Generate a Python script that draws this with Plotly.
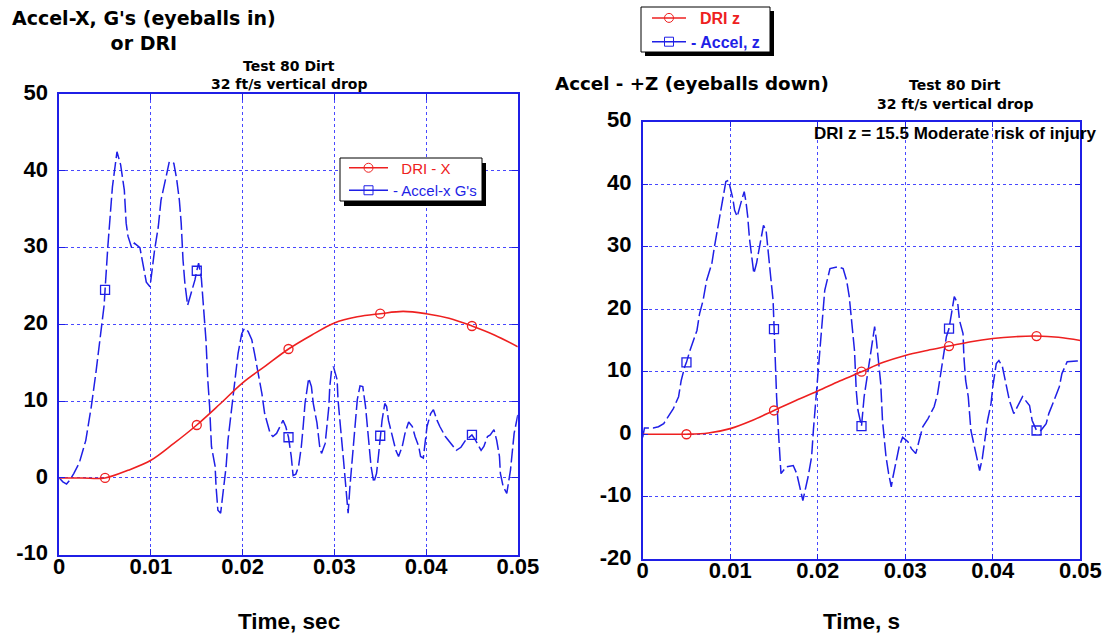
import plotly.graph_objects as go

# ---------------- data ----------------
TIME_TICKS = [0, 0.01, 0.02, 0.03, 0.04, 0.05]
Y_TICKS_LEFT = [-10, 0, 10, 20, 30, 40, 50]
Y_TICKS_RIGHT = [-20, -10, 0, 10, 20, 30, 40, 50]
MARK_T = [0.005, 0.015, 0.025, 0.035, 0.045]

# Dynamic Response Index, sampled every 2.5 ms
DRI_T = [0, 0.0025, 0.005, 0.0075, 0.01, 0.0125, 0.015, 0.0175, 0.02, 0.0225, 0.025,
         0.0275, 0.03, 0.0325, 0.035, 0.0375, 0.04, 0.0425, 0.045, 0.0475, 0.05]
DRI_X = [0, 0, 0, 1.0, 2.3, 4.5, 6.9, 9.6, 12.4, 14.6, 16.8,
         18.6, 20.2, 21.0, 21.4, 21.7, 21.4, 20.8, 19.8, 18.6, 17.1]
DRI_Z = [0, 0, 0, 0.2, 0.9, 2.2, 3.8, 5.4, 6.9, 8.5, 10.0,
         11.5, 12.6, 13.4, 14.1, 14.8, 15.3, 15.6, 15.7, 15.5, 15.0]

# Seat acceleration, x axis (G's)
ACCEL_X_T = [0, 0.0004, 0.0008, 0.0012, 0.0016, 0.0022, 0.0029, 0.0035, 0.004, 0.0046,
             0.0049, 0.005, 0.0053, 0.0058, 0.006, 0.0063, 0.0067, 0.0071, 0.0073, 0.0075,
             0.0079, 0.0082, 0.0088, 0.0091, 0.0095, 0.0099, 0.0104, 0.0108, 0.0111, 0.0117,
             0.012, 0.0125, 0.0128, 0.0131, 0.0133, 0.0135, 0.0137, 0.014, 0.0145, 0.0148,
             0.015, 0.0152, 0.0155, 0.0157, 0.0159, 0.016, 0.0162, 0.0164, 0.0166, 0.017,
             0.0171, 0.0173, 0.0176, 0.0179, 0.0182, 0.0184, 0.0188, 0.0191, 0.0195, 0.0199,
             0.0202, 0.0206, 0.021, 0.0213, 0.0217, 0.0221, 0.0224, 0.023, 0.0233, 0.0237,
             0.0244, 0.0247, 0.025, 0.0253, 0.0255, 0.0258, 0.0261, 0.0264, 0.0266, 0.0268,
             0.0272, 0.0275, 0.0277, 0.0281, 0.0284, 0.0286, 0.029, 0.0292, 0.0294, 0.0295,
             0.0297, 0.0299, 0.0303, 0.0304, 0.0306, 0.0308, 0.031, 0.0312, 0.0314, 0.0315,
             0.0317, 0.0319, 0.0321, 0.0323, 0.0325, 0.0328, 0.0331, 0.0334, 0.0336, 0.0338,
             0.034, 0.0343, 0.0346, 0.0348, 0.035, 0.0352, 0.0355, 0.0357, 0.0359, 0.0363,
             0.0367, 0.037, 0.0374, 0.0377, 0.0381, 0.0385, 0.0388, 0.0392, 0.0394, 0.0397,
             0.0399, 0.0401, 0.0405, 0.0408, 0.0412, 0.0415, 0.0421, 0.0427, 0.0433, 0.0438,
             0.0443, 0.045, 0.0454, 0.046, 0.0463, 0.0467, 0.047, 0.0474, 0.0477, 0.048,
             0.0481, 0.0484, 0.0488, 0.0492, 0.0494, 0.0496, 0.05]
ACCEL_X = [0, -0.5, -0.8, -0.2, 0.6, 2.0, 4.9, 9.3, 13.7, 19.7,
           22.5, 24.5, 30.1, 37.9, 40.1, 42.5, 40.8, 37.5, 33.2, 31.5,
           30.0, 30.6, 30.0, 28.0, 25.5, 24.9, 29.7, 32.7, 36.2, 39.5,
           41.2, 41.0, 39.0, 36.2, 33.2, 28.4, 25.4, 22.5, 24.5, 25.8,
           27.0, 28.0, 26.0, 23.2, 20.5, 18.0, 12.8, 9.3, 4.1, 1.5,
           -1.1, -4.2, -4.6, -1.1, 1.5, 4.9, 9.3, 11.9, 16.2, 18.8,
           19.5, 19.1, 18.0, 16.2, 13.6, 11.0, 8.4, 5.8, 5.4, 5.8,
           7.5, 6.7, 5.3, 2.8, 0.3, 0.5, 1.5, 4.1, 6.7, 9.7,
           13.0, 11.9, 9.7, 7.2, 4.1, 3.2, 4.5, 7.2, 9.3, 11.9,
           14.1, 14.5, 12.8, 10.2, 8.0, 4.9, 2.3, -0.3, -2.9, -4.6,
           -1.1, 1.5, 4.5, 7.2, 10.2, 12.0, 11.9, 9.3, 6.7, 4.1,
           1.5, -0.6, 0.6, 2.8, 5.5, 7.5, 9.7, 9.3, 7.5, 5.4,
           3.6, 2.8, 4.1, 5.8, 7.3, 6.7, 5.4, 4.1, 2.8, 2.6,
           4.9, 6.7, 8.4, 8.9, 7.5, 6.7, 5.4, 4.5, 3.6, 4.0,
           4.9, 5.6, 4.9, 3.6, 4.1, 5.4, 5.6, 6.3, 4.9, 2.8,
           0.6, -1.1, -2.0, 1.0, 3.6, 5.8, 8.2]

# Seat acceleration, z axis (G's)
ACCEL_Z_T = [0, 0.0002, 0.0012, 0.0018, 0.0024, 0.0029, 0.0035, 0.0041, 0.0044, 0.0048,
             0.005, 0.0054, 0.0058, 0.0062, 0.0065, 0.0069, 0.0073, 0.0079, 0.0082, 0.0086,
             0.0089, 0.0092, 0.0095, 0.0098, 0.01, 0.0103, 0.0105, 0.0108, 0.0113, 0.0116,
             0.0118, 0.012, 0.0122, 0.0124, 0.0127, 0.013, 0.0134, 0.0138, 0.0141, 0.0143,
             0.0145, 0.0147, 0.0149, 0.015, 0.0151, 0.0153, 0.0155, 0.0157, 0.0158, 0.0164,
             0.0172, 0.0176, 0.0179, 0.0183, 0.0189, 0.0193, 0.0195, 0.0198, 0.0202, 0.0204,
             0.0208, 0.0214, 0.0223, 0.0229, 0.0233, 0.0236, 0.0238, 0.024, 0.0242, 0.0244,
             0.0246, 0.025, 0.0253, 0.0257, 0.0261, 0.0265, 0.0267, 0.027, 0.0272, 0.0274,
             0.0276, 0.0278, 0.0281, 0.0284, 0.0286, 0.0289, 0.0293, 0.0297, 0.0303, 0.0307,
             0.0312, 0.0317, 0.032, 0.0326, 0.0333, 0.0337, 0.034, 0.0343, 0.0347, 0.035,
             0.0353, 0.0356, 0.036, 0.0362, 0.0366, 0.0367, 0.0369, 0.0372, 0.0375, 0.0379,
             0.0383, 0.0385, 0.0388, 0.0391, 0.0394, 0.0398, 0.04, 0.0404, 0.0407, 0.0411,
             0.0415, 0.0419, 0.0424, 0.043, 0.0434, 0.0442, 0.0445, 0.045, 0.0455, 0.0461,
             0.0464, 0.047, 0.0476, 0.0479, 0.0485, 0.0496, 0.05]
ACCEL_Z = [-0.5, 1.0, 1.0, 1.2, 1.7, 2.8, 4.1, 6.0, 8.6, 10.8,
           11.5, 13.4, 15.0, 16.6, 19.3, 21.4, 24.6, 27.3, 30.0, 33.2,
           35.8, 38.5, 40.4, 40.6, 39.5, 37.7, 35.8, 34.8, 37.4, 38.8,
           37.2, 34.8, 31.3, 28.9, 25.7, 27.3, 30.5, 33.4, 32.6, 29.4,
           27.3, 24.1, 21.4, 16.8, 12.4, 6.0, 0.6, -3.6, -6.3, -5.2,
           -5.0, -6.3, -8.4, -10.6, -6.8, -3.6, 0.6, 6.0, 12.4, 17.0,
           23.0, 26.5, 26.8, 26.5, 24.6, 22.0, 18.8, 16.6, 13.4, 7.0,
           3.8, 1.3, 6.0, 9.7, 13.4, 17.2, 15.0, 11.3, 8.1, 2.2,
           -1.0, -3.6, -6.3, -8.4, -6.8, -4.7, -2.0, -0.5, -1.2, -2.3,
           -3.1, -0.4, 1.2, 2.5, 4.4, 6.5, 9.2, 12.4, 15.6, 16.9,
           19.5, 22.0, 20.9, 18.2, 16.1, 12.4, 8.6, 6.0, 0.6, -2.0,
           -4.7, -5.8, -3.9, -0.4, 2.2, 4.9, 7.6, 11.3, 11.8, 10.8,
           8.1, 5.4, 3.3, 4.9, 6.0, 4.6, 2.2, 0.6, 0.6, 1.7,
           3.3, 5.4, 7.6, 9.7, 11.6, 11.7, 11.7]

# ---------------- styling ----------------
W, H = 1102, 636
BLUE = "#1f1fe6"
GRID = "#4848ff"
RED = "#ee2020"
SANS = "Liberation Sans, Arial, Helvetica, sans-serif"
WIDE = "DejaVu Sans, Verdana, sans-serif"
NBSP = "\u00a0"


def px_x(p):
    return p / W


def px_y(p):
    return 1 - p / H


def sample(ts, vs, at):
    lut = {round(t, 4): v for t, v in zip(ts, vs)}
    return [lut[round(t, 4)] for t in at]


fig = go.Figure()


def add_panel(xa, ya, acc_t, acc_v, dri_v, legend, dri_name, acc_name):
    # measured acceleration: dashed trace plus sampled square markers
    fig.add_trace(go.Scatter(x=acc_t, y=acc_v, mode="lines", xaxis=xa, yaxis=ya,
                             line=dict(color=BLUE, width=1.5, dash="14px,4px"),
                             showlegend=False, hoverinfo="skip"))
    fig.add_trace(go.Scatter(x=MARK_T, y=sample(acc_t, acc_v, MARK_T), mode="markers",
                             xaxis=xa, yaxis=ya,
                             marker=dict(symbol="square-open", size=9, color=BLUE,
                                         line=dict(width=1.3)),
                             showlegend=False))
    # DRI curve with circle markers
    fig.add_trace(go.Scatter(x=DRI_T, y=dri_v, mode="lines", xaxis=xa, yaxis=ya,
                             line=dict(color=RED, width=1.6, shape="spline"),
                             showlegend=False))
    fig.add_trace(go.Scatter(x=MARK_T, y=sample(DRI_T, dri_v, MARK_T), mode="markers",
                             xaxis=xa, yaxis=ya,
                             marker=dict(symbol="circle-open", size=9, color=RED,
                                         line=dict(width=1.3)),
                             showlegend=False))
    # legend entries
    fig.add_trace(go.Scatter(x=[None], y=[None], mode="lines+markers", xaxis=xa, yaxis=ya,
                             name=dri_name, legend=legend,
                             line=dict(color=RED, width=1.5),
                             marker=dict(symbol="circle-open", size=9, color=RED)))
    fig.add_trace(go.Scatter(x=[None], y=[None], mode="lines+markers", xaxis=xa, yaxis=ya,
                             name=acc_name, legend=legend,
                             line=dict(color=BLUE, width=1.5),
                             marker=dict(symbol="square-open", size=9, color=BLUE)))


add_panel("x", "y", ACCEL_X_T, ACCEL_X, DRI_X, "legend",
          f"<span style='color:{RED}'>{NBSP}{NBSP}DRI - X</span>",
          f"<span style='color:{BLUE}'>- Accel-x G's</span>")
add_panel("x2", "y2", ACCEL_Z_T, ACCEL_Z, DRI_Z, "legend2",
          f"<span style='color:{RED}'><b>{NBSP}{NBSP}DRI z</b></span>",
          f"<span style='color:{BLUE}'><b>- Accel, z</b></span>")

axis_common = dict(
    showline=True, linecolor=BLUE, linewidth=1.5, mirror="ticks",
    showgrid=True, gridcolor=GRID, gridwidth=1, griddash="dot",
    ticks="inside", ticklen=6, tickcolor=BLUE, tickwidth=1.2,
    zeroline=False, fixedrange=True,
    tickfont=dict(family=SANS, size=22, color="black", weight="bold"),
)
x_common = dict(axis_common, range=[0, 0.05], tickvals=TIME_TICKS, ticklabelstandoff=-9)
y_common = dict(axis_common, ticklabelstandoff=5, ticklabelshift=-2)

fig.update_layout(
    width=W, height=H,
    margin=dict(l=0, r=0, t=0, b=0, autoexpand=False),
    paper_bgcolor="white", plot_bgcolor="white",
    xaxis=dict(x_common, domain=[px_x(59.2), px_x(517.8)], anchor="y"),
    yaxis=dict(y_common, domain=[px_y(554.7), px_y(94.2)], range=[-10, 50],
               tickvals=Y_TICKS_LEFT, ticktext=[str(v) for v in Y_TICKS_LEFT], anchor="x"),
    xaxis2=dict(x_common, domain=[px_x(642.7), px_x(1080.3)], anchor="y2"),
    yaxis2=dict(y_common, domain=[px_y(559.3), px_y(121.6)], range=[-20, 50],
                tickvals=Y_TICKS_RIGHT, ticktext=[str(v) for v in Y_TICKS_RIGHT], anchor="x2"),
    legend=dict(x=px_x(344), y=px_y(151.5), xanchor="left", yanchor="top",
                bgcolor="rgba(0,0,0,0)", borderwidth=0,
                font=dict(family=SANS, size=15), itemwidth=39, tracegroupgap=0),
    legend2=dict(x=px_x(647), y=px_y(1), xanchor="left", yanchor="top",
                 bgcolor="rgba(0,0,0,0)", borderwidth=0,
                 font=dict(family=SANS, size=16), itemwidth=34, tracegroupgap=0),
    showlegend=True,
)

# legend frames with drop shadows
for (x0, y0, x1, y1), d in [((340, 158, 482, 201), (4, 5)), ((641, 7, 770, 52), (4, 4))]:
    fig.add_shape(type="rect", xref="paper", yref="paper",
                  x0=px_x(x0 + d[0]), x1=px_x(x1 + d[0]), y0=px_y(y1 + d[1]), y1=px_y(y0 + d[1]),
                  fillcolor="black", line=dict(width=0), layer="above")
    fig.add_shape(type="rect", xref="paper", yref="paper",
                  x0=px_x(x0), x1=px_x(x1), y0=px_y(y1), y1=px_y(y0),
                  fillcolor="white", line=dict(color="black", width=1), layer="above")


def label(text, x, y, size, family=WIDE, xanchor="center", yanchor="middle", align="center"):
    fig.add_annotation(text=text, x=px_x(x), y=px_y(y), xref="paper", yref="paper",
                       xanchor=xanchor, yanchor=yanchor, align=align, showarrow=False,
                       font=dict(family=family, size=size, color="black", weight="bold"))


label("Accel-X, G's (eyeballs in)<br>or DRI", 144, 30.5, 19)
label("Test 80 Dirt", 288.5, 65.5, 14)
label("32 ft/s vertical drop", 288.5, 84, 14)
label("Accel - +Z (eyeballs down)", 552.6, 83.3, 18.3, xanchor="left")
label("Test 80 Dirt", 954.6, 85, 14)
label("32 ft/s vertical drop", 954.6, 103.5, 14)
label("DRI z = 15.5 Moderate risk of injury", 812, 133.3, 17, family=SANS, xanchor="left")
label("Time, sec", 289, 621, 22.5, family=SANS)
label("Time, s", 861, 621, 22.5, family=SANS)

fig.write_html("out.html")
